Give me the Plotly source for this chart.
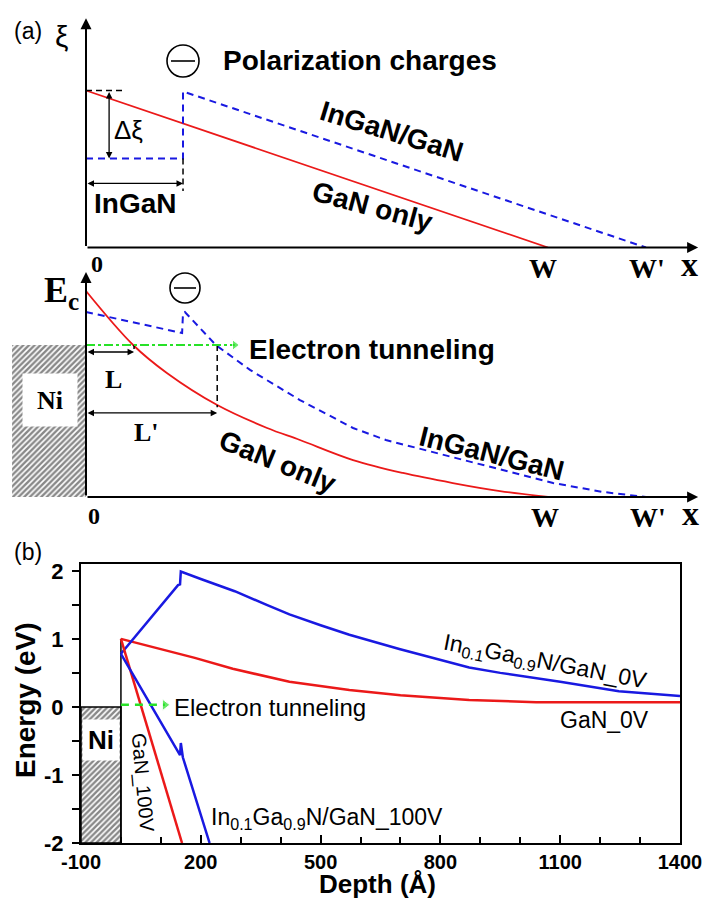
import plotly.graph_objects as go

W, H = 706, 905
def px(x): return x / W
def py(y): return 1 - y / H

SANS = "Arial, Liberation Sans, sans-serif"
SERIF = "Times New Roman, Liberation Serif, serif"
RED = "rgb(235,25,25)"
BLUE = "rgb(25,25,225)"
GREEN = "rgb(40,225,40)"

# ---------------- (b) simulated band diagram data ----------------
gan_0v_x = [0, 85, 185, 280, 422, 572, 700, 872, 1040, 1200, 1400]
gan_0v_y = [1.0, 0.87, 0.72, 0.56, 0.37, 0.25, 0.17, 0.10, 0.07, 0.07, 0.07]

ingan_0v_x = [0, 30, 70, 110, 143, 148, 150, 200, 285, 365, 422, 500, 572, 697, 800, 872, 950, 1100, 1247, 1400]
ingan_0v_y = [0.78, 0.99, 1.27, 1.55, 1.79, 1.80, 1.99, 1.88, 1.70, 1.50, 1.36, 1.20, 1.06, 0.85, 0.69, 0.58, 0.50, 0.37, 0.23, 0.16]

gan_100v_x = [0, 153]
gan_100v_y = [1.0, -2.0]

ingan_100v_x = [0, 148, 150, 155, 222]
ingan_100v_y = [0.78, -0.71, -0.53, -0.74, -2.0]

ni_x = [-100, 0]
ni_y = [-2, 0]
barrier_top = 1.0
tunnel_x = [0, 110]
tunnel_y = [0.03, 0.03]

x_tick_vals = [-100, 200, 500, 800, 1100, 1400]
x_tick_text = ["-100", "200", "500", "800", "1100", "1400"]
y_tick_vals = [-2, -1, 0, 1, 2]
y_tick_text = ["-2", "-1", "0", "1", "2"]

# ---------------- (a) schematic: field xi ----------------
xi_gan_x = [0, 1.0]
xi_gan_y = [1.0, 0.0]
xi_ingan_x = [0, 0.21, 0.21, 1.212]
xi_ingan_y = [0.567, 0.567, 0.994, 0.0]
xi_interface = 0.21
xi_ingan_level = 0.567

# ---------------- (a) schematic: conduction band Ec ----------------
ec_gan_x = [0, 0.102, 0.175, 0.284, 0.392, 0.463, 0.578, 0.686, 0.794, 0.896, 1.0]
ec_gan_y = [1.355, 1.0, 0.816, 0.605, 0.454, 0.375, 0.243, 0.158, 0.092, 0.039, 0.0]
ec_ingan_x = [0, 0.208, 0.210, 0.214, 0.281, 0.355, 0.463, 0.578, 0.649, 0.794, 0.903, 1.011, 1.119, 1.212]
ec_ingan_y = [1.217, 1.079, 1.211, 1.217, 1.0, 0.836, 0.638, 0.454, 0.375, 0.263, 0.178, 0.092, 0.033, 0.0]
ec_fermi = 1.0
ec_L = 0.104
ec_Lp = 0.284
ec_tunnel_end = 0.322
ec_ni_left = -0.16

fig = go.Figure()

def line(x, y, xa, ya, color, width=2, dash=None, shape="linear"):
    fig.add_trace(go.Scatter(x=x, y=y, xaxis=xa, yaxis=ya, mode="lines",
                             line=dict(color=color, width=width, dash=dash, shape=shape),
                             hoverinfo="skip", showlegend=False))

HATCH = dict(shape="/", fgcolor="#111", bgcolor="white", size=4, solidity=0.6)

# ---- panel (b) ----
fig.add_trace(go.Scatter(x=[ni_x[0], ni_x[1], ni_x[1], ni_x[0], ni_x[0]],
                         y=[ni_y[1], ni_y[1], ni_y[0], ni_y[0], ni_y[1]],
                         xaxis="x", yaxis="y", mode="lines", fill="toself", fillcolor="white",
                         fillpattern=HATCH,
                         line=dict(color="black", width=1.5), hoverinfo="skip", showlegend=False))
line([ni_x[1], ni_x[1]], [ni_y[0], barrier_top], "x", "y", "black", 1.5)
line(gan_0v_x, gan_0v_y, "x", "y", RED, 2.5)
line(ingan_0v_x, ingan_0v_y, "x", "y", BLUE, 2.5)
line(gan_100v_x, gan_100v_y, "x", "y", RED, 2.5)
line(ingan_100v_x, ingan_100v_y, "x", "y", BLUE, 2.5)
fig.add_trace(go.Scatter(x=tunnel_x, y=tunnel_y, xaxis="x", yaxis="y", mode="lines+markers",
                         line=dict(color=GREEN, width=2.5, dash="8px,6px"),
                         marker=dict(symbol="triangle-right", size=[0, 10], color=GREEN),
                         hoverinfo="skip", showlegend=False))

# ---- top schematic (xi) ----
line(xi_gan_x, xi_gan_y, "x2", "y2", RED, 1.8)
line(xi_ingan_x, xi_ingan_y, "x2", "y2", BLUE, 2, "7px,5px")
line([0, 0.078], [1.0, 1.0], "x2", "y2", "black", 1.5, "6px,4px")
line([xi_interface, xi_interface], [xi_ingan_level, 0.36], "x2", "y2", "black", 1.5, "6px,4px")

# ---- middle schematic (Ec) ----
fig.add_trace(go.Scatter(x=[ec_ni_left, 0, 0, ec_ni_left, ec_ni_left], y=[0, 0, ec_fermi, ec_fermi, 0],
                         xaxis="x3", yaxis="y3", mode="lines", fill="toself", fillcolor="white",
                         fillpattern=HATCH,
                         line=dict(color="rgba(0,0,0,0)", width=0), hoverinfo="skip", showlegend=False))
line(ec_gan_x, ec_gan_y, "x3", "y3", RED, 1.8, None, "spline")
line(ec_ingan_x, ec_ingan_y, "x3", "y3", BLUE, 2, "7px,5px")
line([ec_L, ec_L], [ec_fermi, 0.954], "x3", "y3", "black", 1.5, "4px,3px")
line([ec_Lp, ec_Lp], [ec_fermi, 0.59], "x3", "y3", "black", 1.5, "6px,4px")
fig.add_trace(go.Scatter(x=[0, ec_tunnel_end], y=[ec_fermi, ec_fermi], xaxis="x3", yaxis="y3",
                         mode="lines+markers", line=dict(color=GREEN, width=2, dash="dashdot"),
                         marker=dict(symbol="triangle-right", size=[0, 9], color=GREEN),
                         hoverinfo="skip", showlegend=False))

ann = []
def arrow(xr, yr, x0, y0, x1, y1, both=False, width=1.5, size=1.0):
    ann.append(dict(xref=xr, yref=yr, axref=xr, ayref=yr, x=x1, y=y1, ax=x0, ay=y0, text="",
                    showarrow=True, arrowhead=2, startarrowhead=2,
                    arrowside="end+start" if both else "end", arrowwidth=width, arrowsize=size,
                    startarrowsize=size, arrowcolor="black", standoff=0, startstandoff=0))

def txt(s, x, y, size, family=SANS, bold=False, angle=0, xanchor="center", **kw):
    d = dict(xref="paper", yref="paper", x=px(x), y=py(y), text=s, showarrow=False,
             xanchor=xanchor, yanchor="middle", textangle=angle,
             font=dict(family=family, size=size, color="black", weight="bold" if bold else "normal"))
    d.update(kw)
    ann.append(d)

# axes arrows of schematics
arrow("x2", "y2", 0, 0, 0, 1.46, width=2, size=1.1)
arrow("x2", "y2", 0, 0, 1.325, 0, width=2, size=1.1)
arrow("x3", "y3", 0, 0, 0, 1.48, width=2, size=1.1)
arrow("x3", "y3", 0, 0, 1.325, 0, width=2, size=1.1)
# dimension arrows
arrow("x2", "y2", 0.05, 1.0, 0.05, xi_ingan_level, both=True, width=1.3)
arrow("x2", "y2", 0, 0.408, xi_interface, 0.408, both=True, width=1.3)
arrow("x3", "y3", 0, 0.954, ec_L, 0.954, both=True, width=1.3)
arrow("x3", "y3", 0, 0.553, ec_Lp, 0.553, both=True, width=1.3)

# texts top
txt("(a)", 28, 31, 23)
txt("ξ", 61, 36, 30)
txt("Polarization charges", 360, 60, 28, bold=True)
txt("InGaN/GaN", 392, 131, 28, bold=True, angle=17)
txt("GaN only", 372, 206, 28, bold=True, angle=15)
txt("Δξ", 128, 130, 26)
txt("InGaN", 135, 204, 28, bold=True)
txt("0", 97, 264, 24, SERIF, True)
txt("W", 543, 268, 28, SERIF, True)
txt("W'", 647, 268, 28, SERIF, True)
txt("x", 689, 264, 34, SERIF, True)

# texts middle
txt("E<sub>c</sub>", 42, 292, 36, SERIF, True, xanchor="left")
txt("Electron tunneling", 372, 349, 28, bold=True)
txt("Ni", 49.5, 400, 26, SERIF, True, bgcolor="white", width=52, height=50)
txt("L", 113, 379, 26, SERIF, True)
txt("L'", 146, 433, 26, SERIF, True)
txt("GaN only", 277, 462, 28, bold=True, angle=22)
txt("InGaN/GaN", 492, 453, 28, bold=True, angle=14)
txt("0", 94, 516, 24, SERIF, True)
txt("W", 545, 517, 28, SERIF, True)
txt("W'", 648, 517, 28, SERIF, True)
txt("x", 690, 513, 34, SERIF, True)

# texts panel b
txt("(b)", 28, 552, 23)
txt("Energy (eV)", 25, 700, 28, bold=True, angle=-90)
txt("Depth (Å)", 377, 884, 26, bold=True)
txt("Electron tunneling", 172, 707, 24, xanchor="left")
txt("In<sub>0.1</sub>Ga<sub>0.9</sub>N/GaN_0V", 545, 662, 23, angle=11)
txt("GaN_0V", 604, 720, 23)
txt("GaN_100V", 143, 783, 20, angle=85)
txt("In<sub>0.1</sub>Ga<sub>0.9</sub>N/GaN_100V", 327, 818, 23)
txt("Ni", 101, 740, 26, bold=True, bgcolor="white", width=34, height=38)

shapes = []
for cx, cy, r in [(183, 61, 16), (185, 288, 15)]:
    shapes.append(dict(type="circle", xref="paper", yref="paper", x0=px(cx - r), x1=px(cx + r),
                       y0=py(cy + r), y1=py(cy - r), line=dict(color="black", width=1.6)))
    shapes.append(dict(type="line", xref="paper", yref="paper", x0=px(cx - r + 4), x1=px(cx + r - 4),
                       y0=py(cy), y1=py(cy), line=dict(color="black", width=1.6)))

X0, XS = 86, 462
hidden = dict(visible=False, showgrid=False, zeroline=False, fixedrange=True, automargin=False)
fig.update_layout(
    width=W, height=H, autosize=False,
    margin=dict(l=0, r=0, t=0, b=0, pad=0, autoexpand=False),
    paper_bgcolor="white", plot_bgcolor="rgba(0,0,0,0)", showlegend=False,
    xaxis=dict(domain=[px(81), px(680)], range=[-100, 1400], anchor="y", automargin=False,
               showline=True, linecolor="black", linewidth=2, mirror=True,
               ticks="inside", ticklen=8, tickwidth=1.5, tickcolor="black",
               tickmode="array", tickvals=x_tick_vals, ticktext=x_tick_text,
               minor=dict(ticks="inside", ticklen=6, tickwidth=1.5, tickcolor="black",
                          tickmode="linear", tick0=-100, dtick=100),
               tickfont=dict(family=SANS, size=20, color="black", weight="bold"),
               showgrid=False, zeroline=False),
    yaxis=dict(domain=[py(843), py(564)], range=[-2, 2.1], anchor="x", automargin=False,
               showline=True, linecolor="black", linewidth=2, mirror=True,
               ticks="outside", ticklen=7, tickwidth=1.5, tickcolor="black",
               tickmode="array", tickvals=y_tick_vals, ticktext=y_tick_text,
               ticklabelstandoff=4,
               minor=dict(ticks="outside", ticklen=7, tickwidth=1.5, tickcolor="black",
                          tickmode="linear", tick0=-2, dtick=0.5),
               tickfont=dict(family=SANS, size=22, color="black", weight="bold"),
               showgrid=False, zeroline=False),
    xaxis2=dict(domain=[px(10), px(700)], range=[(10 - X0) / XS, (700 - X0) / XS], anchor="y2", **hidden),
    yaxis2=dict(domain=[py(247.5), py(18)], range=[0, (247.5 - 18) / 157], anchor="x2", **hidden),
    xaxis3=dict(domain=[px(10), px(700)], range=[(10 - X0) / XS, (700 - X0) / XS], anchor="y3", **hidden),
    yaxis3=dict(domain=[py(497), py(268)], range=[0, (497 - 268) / 152], anchor="x3", **hidden),
    annotations=ann, shapes=shapes,
)

fig.write_html("out.html", config={"displayModeBar": False},
               post_script="document.body.style.margin='0';document.body.style.overflow='hidden';")
